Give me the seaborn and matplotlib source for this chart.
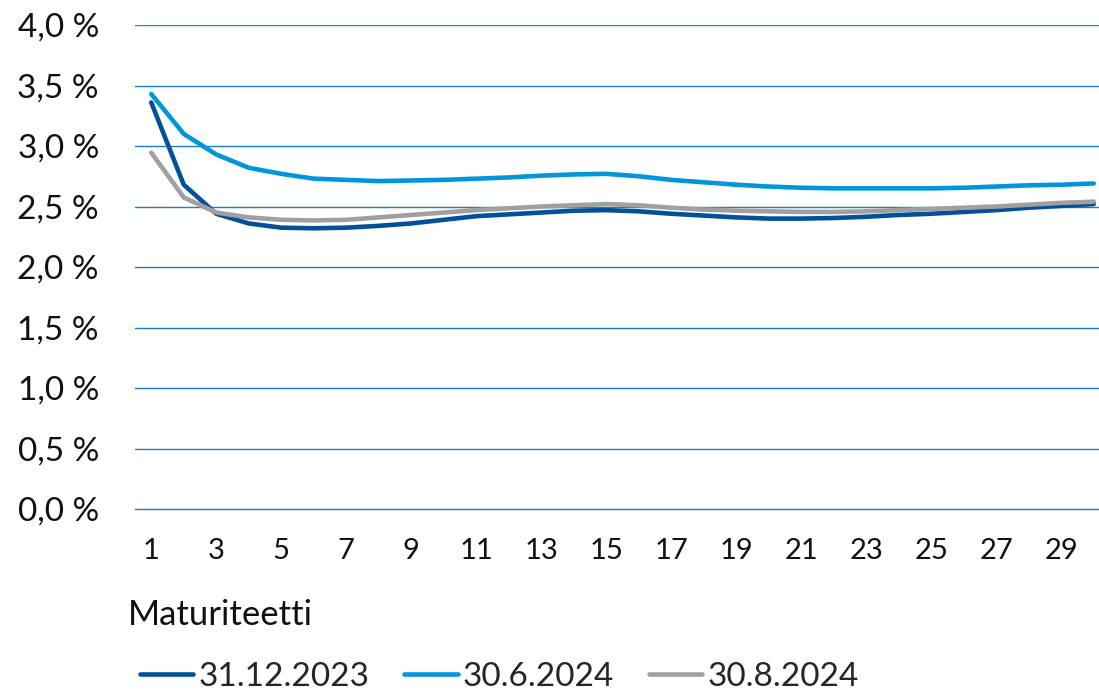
import matplotlib
matplotlib.use("Agg")
import matplotlib.pyplot as plt
import seaborn as sns
import pandas as pd
import numpy as np
from matplotlib.lines import Line2D

# Maturity (years) and yield curves
maturity = list(range(1, 31))
curve_2023_12 = [3.36, 2.68, 2.44, 2.36, 2.325, 2.32, 2.325, 2.34, 2.36, 2.39,
                 2.42, 2.435, 2.45, 2.465, 2.47, 2.46, 2.44, 2.425, 2.41, 2.40,
                 2.40, 2.405, 2.415, 2.43, 2.44, 2.455, 2.47, 2.49, 2.505, 2.52]
curve_2024_06 = [3.43, 3.10, 2.93, 2.82, 2.77, 2.73, 2.72, 2.71, 2.715, 2.72,
                 2.73, 2.74, 2.755, 2.765, 2.77, 2.75, 2.72, 2.70, 2.68, 2.665,
                 2.655, 2.65, 2.65, 2.65, 2.65, 2.655, 2.665, 2.675, 2.68, 2.69]
curve_2024_08 = [2.945, 2.575, 2.45, 2.41, 2.39, 2.385, 2.39, 2.41, 2.43, 2.45,
                 2.47, 2.485, 2.50, 2.51, 2.52, 2.51, 2.49, 2.475, 2.465, 2.46,
                 2.455, 2.455, 2.46, 2.47, 2.48, 2.49, 2.50, 2.515, 2.53, 2.54]
series_names = ["31.12.2023", "30.6.2024", "30.8.2024"]
colors = ["#00509A", "#0096DB", "#A0A0A0"]

y_ticks = [0.0, 0.5, 1.0, 1.5, 2.0, 2.5, 3.0, 3.5, 4.0]
y_labels = ["0,0 %", "0,5 %", "1,0 %", "1,5 %", "2,0 %", "2,5 %", "3,0 %", "3,5 %", "4,0 %"]
x_ticks = list(range(1, 31, 2))
x_label = "Maturiteetti"

df = pd.DataFrame({
    "maturity": maturity * 3,
    "value": curve_2023_12 + curve_2024_06 + curve_2024_08,
    "series": [series_names[0]] * 30 + [series_names[1]] * 30 + [series_names[2]] * 30,
})

sns.set_style("white")
plt.rcParams["font.family"] = ["Lato", "DejaVu Sans"]

fig = plt.figure(figsize=(10.99, 6.9), dpi=100)
ax = fig.add_axes([135 / 1099, (690 - 509) / 690, 975 / 1099, (509 - 25) / 690])

grid_color = "#1C7DC8"
for v in y_ticks[1:]:
    ax.axhline(v, color=grid_color, lw=1.0, zorder=0)

sns.lineplot(data=df, x="maturity", y="value", hue="series",
             palette=dict(zip(series_names, colors)), linewidth=3.3,
             legend=False, ax=ax, solid_capstyle="round", zorder=3)

ax.set_xlim(0.5, 30.5)
ax.set_ylim(0, 4.0)
ax.set_yticks(y_ticks)
ax.set_yticklabels(y_labels)
ax.set_xticks(x_ticks)
ax.set_xticklabels([str(t) for t in x_ticks])
ax.set_xticks(np.arange(0.5, 31, 1.0), minor=True)

ax.tick_params(axis="y", length=0, pad=26, labelsize=24, labelcolor="#111111")
ax.tick_params(axis="x", which="major", length=0, pad=21, labelsize=21, labelcolor="#111111")
ax.tick_params(axis="x", which="minor", direction="in", length=7, width=1.0, color=grid_color)

for side in ["top", "right", "left"]:
    ax.spines[side].set_visible(False)
ax.spines["bottom"].set_color(grid_color)
ax.spines["bottom"].set_linewidth(1.0)

ax.set_xlabel("")
ax.set_ylabel("")
fig.text(128 / 1099, 1 - 615 / 690, x_label, fontsize=25, ha="left", va="center", color="#111111")

handles = [Line2D([0], [0], color=c, lw=3.3, solid_capstyle="round") for c in colors]
fig.legend(handles, series_names, loc="center left", bbox_to_anchor=(140 / 1099, 1 - 677 / 690),
           ncol=3, frameon=False, fontsize=24, handlelength=1.6, handletextpad=0.15,
           columnspacing=1.05, borderaxespad=0, borderpad=0)

fig.savefig("out.png", dpi=100)
